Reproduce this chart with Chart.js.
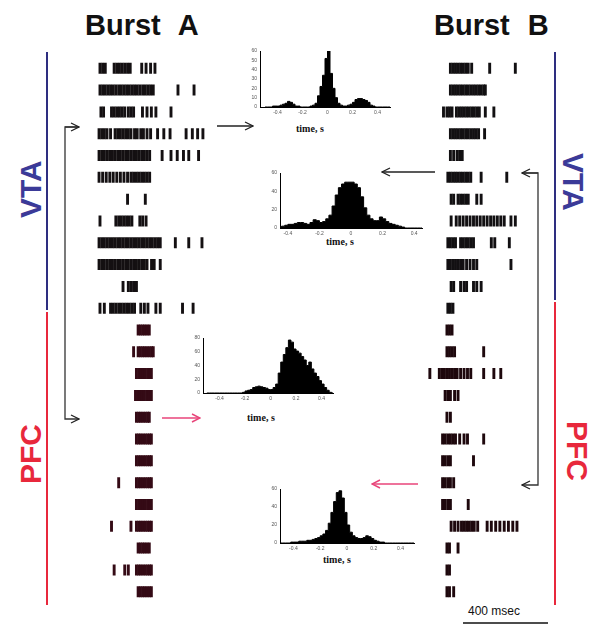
<!DOCTYPE html>
<html>
<head>
<meta charset="utf-8">
<script src="https://cdn.jsdelivr.net/npm/chart.js@4.4.1/dist/chart.umd.min.js"></script>
<style>
  html, body { margin: 0; padding: 0; background: #fff; }
  #fig { position: relative; width: 595px; height: 628px; overflow: hidden; background: #fff; font-family: "Liberation Sans", Arial, sans-serif; }
  #fig canvas { position: absolute; }
  .title { position: absolute; font-weight: bold; font-size: 29px; color: #111; white-space: nowrap; word-spacing: 10px; }
  .region { position: absolute; font-weight: bold; font-size: 30px; white-space: nowrap; transform-origin: 0 0; }
  .tlabel { position: absolute; font-family: "Liberation Serif", "Times New Roman", serif; font-weight: bold; font-size: 10px; color: #111; white-space: nowrap; }
  .scale { position: absolute; font-size: 12px; color: #111; white-space: nowrap; }
  svg { position: absolute; left: 0; top: 0; }
</style>
</head>
<body>
<div id="fig">
  <div class="title" style="left:85px; top:9px;">Burst A</div>
  <div class="title" style="left:434px; top:9px;">Burst B</div>
  <div class="region" style="left:14px; top:218px; transform: rotate(-90deg); color:#3b3a98;">VTA</div>
  <div class="region" style="left:14px; top:484px; transform: rotate(-90deg); color:#e8283c;">PFC</div>
  <div class="region" style="left:590px; top:153px; transform: rotate(90deg); color:#3b3a98;">VTA</div>
  <div class="region" style="left:594px; top:421px; transform: rotate(90deg); color:#e8283c;">PFC</div>
  <div class="tlabel" style="left:296px; top:123px;">time, s</div>
  <div class="tlabel" style="left:326px; top:236px;">time, s</div>
  <div class="tlabel" style="left:247px; top:412px;">time, s</div>
  <div class="tlabel" style="left:323px; top:554px;">time, s</div>
  <div class="scale" style="left:468px; top:604px;">400 msec</div>
  <svg width="595" height="628" viewBox="0 0 595 628">
    <defs>
      <marker id="headK" markerWidth="10" markerHeight="10" refX="9" refY="5" orient="auto" markerUnits="userSpaceOnUse">
        <path d="M1,1 L9,5 L1,9" fill="none" stroke="#222" stroke-width="1.3"/>
      </marker>
      <marker id="headR" markerWidth="10" markerHeight="10" refX="9" refY="5" orient="auto" markerUnits="userSpaceOnUse">
        <path d="M1,1 L9,5 L1,9" fill="none" stroke="#e8457a" stroke-width="1.5"/>
      </marker>
    </defs>
    <!-- region bars -->
    <line x1="47" y1="52" x2="47" y2="310" stroke="#2e2e80" stroke-width="2"/>
    <line x1="47" y1="312" x2="47" y2="605" stroke="#e8283c" stroke-width="2"/>
    <line x1="555" y1="52" x2="555" y2="300" stroke="#2e2e80" stroke-width="2"/>
    <line x1="555" y1="302" x2="555" y2="605" stroke="#e8283c" stroke-width="2"/>
    <!-- brackets linking the paired trials -->
    <polyline points="79,127 65,127 65,419 79,419" fill="none" stroke="#333" stroke-width="1.3" marker-end="url(#headK)"/>
    <line x1="65" y1="127" x2="79" y2="127" stroke="#333" stroke-width="1.3" marker-end="url(#headK)"/>
    <polyline points="522,173 538,173 538,485 522,485" fill="none" stroke="#333" stroke-width="1.3" marker-end="url(#headK)"/>
    <line x1="538" y1="173" x2="522" y2="173" stroke="#333" stroke-width="1.3" marker-end="url(#headK)"/>
    <!-- arrows to histograms -->
    <line x1="217" y1="126" x2="253" y2="126" stroke="#222" stroke-width="1.3" marker-end="url(#headK)"/>
    <line x1="435" y1="172" x2="382" y2="172" stroke="#222" stroke-width="1.3" marker-end="url(#headK)"/>
    <line x1="162" y1="418" x2="200" y2="418" stroke="#e8457a" stroke-width="1.6" marker-end="url(#headR)"/>
    <line x1="418" y1="484" x2="372" y2="484" stroke="#e8457a" stroke-width="1.6" marker-end="url(#headR)"/>
    <!-- scale bar -->
    <line x1="463" y1="623" x2="548" y2="623" stroke="#111" stroke-width="1.5"/>
  </svg>
  <canvas id="rasterA"></canvas>
  <canvas id="rasterB"></canvas>
  <canvas id="h1"></canvas>
  <canvas id="h2"></canvas>
  <canvas id="h3"></canvas>
  <canvas id="h4"></canvas>
</div>
<script>
// Spike times (ms from window start), one array per trial, top to bottom.
const burstA_VTA = [
  [19,33,47, 94,108,122,136,150,165,179, 240,263,287,310],
  [19,33,47,61,75,89,103,118,132,146,160,174,188,202,216,230,245,259,273,287,301, 432,517],
  [24,38, 80,94,108,122,136,150,169,183,197, 244,268,291,315, 395],
  [14,28,42,56,75, 99,113,127,141,155,169,183,202,216, 235,249,268,287, 324,357,390, 475,508,536,564],
  [14,28,42,56,70,85,99,113,127,141,155,169,183,197,212,226,240,254,268,282, 348, 395,428,461,489, 541],
  [14,33,52,71,89,108,127,146,165,183,197,212,226,240,254,268,282],
  [165,259],
  [19, 103,118,132,146,160,174,188, 230,245,263],
  [14,28,42,56,70,85,99,113,127,141,155,169,183,197,212,226,240,254,268,282,296,310,324,338, 418,489,559],
  [14,28,42,56,70,85,99,113,127,141,155,169,183,197,212,226,240,254,268,292,306, 338],
  [141,169,183,197,212],
  [19,42, 75,89,103,118,132,146,160,174,188,202, 235,254,273, 315,338, 456,512]
];
const burstA_PFC = [
  [221,233,245,256,268,280],
  [197, 221,233,245,256,268,280,292,301],
  [212,224,235,247,259,271,282,291],
  [207,219,231,242,254,266,278,291],
  [212,224,235,247,259,271,280],
  [212,224,235,247,259,271,282,291],
  [212,224,235,247,259,271,282,291],
  [118, 212,224,235,247,259,271,282,291],
  [212,224,235,247,259,271,282,291],
  [80,183, 212,224,235,247,259,271,282,291],
  [221,233,245,256,268,280],
  [94,150,169, 212,224,235,247,259,271,282,291],
  [221,233,245,256,268,280,291]
];
const burstB_VTA = [
  [132,146,160,174,188,202,216,230, 249, 348, 489],
  [132,146,160,174,188,202,216,230,244,259,273,287,301,315,324],
  [94, 113,127,141, 165,179,193,207,221,235,249,263,277,291, 324, 371],
  [132,146,160,174,188,202,216,230,244,259,273,287, 320],
  [132,150,169,183,197],
  [118,132,146,160,174,188,202,216,230,244, 301, 442],
  [136,150, 174,188,202,216,230, 277,301],
  [136, 164,183,202,221,240,259,277,296,315,334,353,371,390,409,428, 465,489],
  [118,132,146,160, 188,202,216,230,244,259, 357,376, 456],
  [118,132,146,160,174,188,202, 221,240,259,277, 465],
  [136,150, 188,207,221, 259,277,301],
  [118,132,146]
];
const burstB_PFC = [
  [113,127,141],
  [113,127,141,155, 315],
  [19, 71,85,99,113,127,141,155,169, 188,207,226,244, 315,371,409],
  [103,118,132, 155,174],
  [113,132],
  [89,103,118,132,146,160, 183, 207,226, 315],
  [89,103,118,132, 259],
  [89,103,118,132,150],
  [89,103,118,132, 230],
  [136,155,174,193,207,221,235,249,263,282, 334,357,381,404,428,451,475,498],
  [113,127, 174],
  [113,127],
  [113,127,150]
];

// Cross-correlation histograms: counts per 20 ms bin, bins starting at -0.5 s.
const binStarts = [-0.50,-0.48,-0.46,-0.44,-0.42,-0.40,-0.38,-0.36,-0.34,-0.32,-0.30,-0.28,-0.26,-0.24,-0.22,-0.20,-0.18,-0.16,-0.14,-0.12,-0.10,-0.08,-0.06,-0.04,-0.02,0.00,0.02,0.04,0.06,0.08,0.10,0.12,0.14,0.16,0.18,0.20,0.22,0.24,0.26,0.28,0.30,0.32,0.34,0.36,0.38,0.40,0.42,0.44,0.46,0.48,0.50];
const hist1 = [0,0,0,1,1,1,2,3,4,6,5,3,1,1,0,0,0,0,1,2,4,12,22,34,52,60,36,20,10,4,2,1,1,2,3,5,8,9,9,8,7,5,2,1,0,0,0,0,0,0,0];
const hist2 = [0,0,1,2,3,4,4,5,6,6,5,4,6,9,8,6,7,10,14,24,36,44,48,50,50,50,48,44,34,22,14,10,8,8,12,10,7,5,4,3,2,1,0,0,0,0,0,0,0,0,0];
const hist3 = [0,0,0,0,0,0,0,0,0,0,0,0,0,0,1,3,4,5,8,9,10,9,8,7,5,5,8,13,29,45,56,66,77,74,64,61,58,53,48,40,45,35,29,24,18,13,8,4,1,0,0];
const hist4 = [0,0,0,0,1,1,1,2,2,2,3,3,4,5,6,8,10,14,22,34,46,56,58,50,34,20,12,8,6,5,5,6,8,7,5,3,2,1,1,0,0,0,0,0,0,0,0,0,0,0,0];

const PX_PER_MS = 0.2125;
const ROWS = 25;

function rasterDatasets(groups) {
  return groups.map(g => {
    const pts = [];
    g.rows.forEach((times, i) => times.forEach(t => pts.push({x: t, y: g.offset + i + 1})));
    return {
      data: pts,
      pointStyle: 'line',
      rotation: 90,
      radius: 5.5,
      hoverRadius: 5.5,
      borderWidth: 2.9,
      borderColor: g.color,
      backgroundColor: g.color
    };
  });
}

function makeRaster(id, left, maxMs, groups) {
  const cv = document.getElementById(id);
  const w = Math.round(maxMs * PX_PER_MS);
  const h = ROWS * 22.5;
  cv.width = w; cv.height = h;
  cv.style.left = left + 'px';
  cv.style.top = (60 - 11.25) + 'px';
  cv.style.width = w + 'px'; cv.style.height = h + 'px';
  new Chart(cv, {
    type: 'scatter',
    data: { datasets: rasterDatasets(groups) },
    options: {
      responsive: false, animation: false, devicePixelRatio: 1,
      layout: { padding: 0 },
      plugins: { legend: { display: false }, tooltip: { enabled: false } },
      scales: {
        x: { type: 'linear', min: 0, max: maxMs, display: false },
        y: { type: 'linear', min: 0.5, max: ROWS + 0.5, reverse: true, display: false }
      }
    }
  });
}

makeRaster('rasterA', 88, 700, [
  { rows: burstA_VTA, offset: 0, color: '#141012' },
  { rows: burstA_PFC, offset: 12, color: '#340a15' }
]);
makeRaster('rasterB', 418, 540, [
  { rows: burstB_VTA, offset: 0, color: '#121012' },
  { rows: burstB_PFC, offset: 12, color: '#1e080d' }
]);

// Histogram whose plot area spans (ax, ay) to (ax+aw, ay+ah) over time xMin..xMax.
function makeHist(id, ax, ay, aw, ah, xMin, xMax, counts, yTicks) {
  const padL = 14, padB = 11, padT = 3, padR = 3;
  const cv = document.getElementById(id);
  const w = aw + padL + padR, h = ah + padB + padT;
  cv.width = w; cv.height = h;
  cv.style.left = (ax - padL) + 'px';
  cv.style.top = (ay - padT) + 'px';
  cv.style.width = w + 'px'; cv.style.height = h + 'px';
  const tickFont = { family: 'Liberation Sans', size: 5 };
  new Chart(cv, {
    type: 'line',
    data: {
      datasets: [{
        data: binStarts.map((b, i) => ({ x: b, y: counts[i] })),
        stepped: 'before',
        fill: 'origin',
        borderColor: '#000',
        backgroundColor: '#000',
        borderWidth: 1,
        pointRadius: 0
      }]
    },
    options: {
      responsive: false, animation: false, devicePixelRatio: 1,
      layout: { padding: { top: padT, right: padR, left: 0, bottom: 0 } },
      plugins: { legend: { display: false }, tooltip: { enabled: false } },
      scales: {
        x: {
          type: 'linear', min: xMin, max: xMax,
          afterFit: s => { s.height = padB; },
          afterBuildTicks: s => { s.ticks = [-0.4, -0.2, 0, 0.2, 0.4].map(v => ({ value: v })); },
          ticks: { font: tickFont, color: '#555', padding: 1, maxRotation: 0, autoSkip: false,
                   callback: v => (v === 0 ? '0' : v.toFixed(1)) },
          grid: { display: false, drawTicks: true, tickLength: 2 },
          border: { display: true, color: '#000', width: 1 }
        },
        y: {
          type: 'linear', min: 0, max: yTicks[yTicks.length - 1],
          afterFit: s => { s.width = padL; },
          afterBuildTicks: s => { s.ticks = yTicks.map(v => ({ value: v })); },
          ticks: { font: tickFont, color: '#555', padding: 1, autoSkip: false },
          grid: { display: false, drawTicks: true, tickLength: 2 },
          border: { display: true, color: '#000', width: 1 }
        }
      }
    }
  });
}

makeHist('h1', 260, 50, 130, 57, -0.54, 0.5, hist1, [0, 10, 20, 30, 40, 50, 60]);
makeHist('h2', 280, 172, 142, 56, -0.45, 0.45, hist2, [0, 20, 40, 60]);
makeHist('h3', 203, 337, 130, 56, -0.53, 0.49, hist3, [0, 20, 40, 60, 80]);
makeHist('h4', 280, 488, 134, 55, -0.5, 0.5, hist4, [0, 20, 40, 60]);
</script>
</body>
</html>
